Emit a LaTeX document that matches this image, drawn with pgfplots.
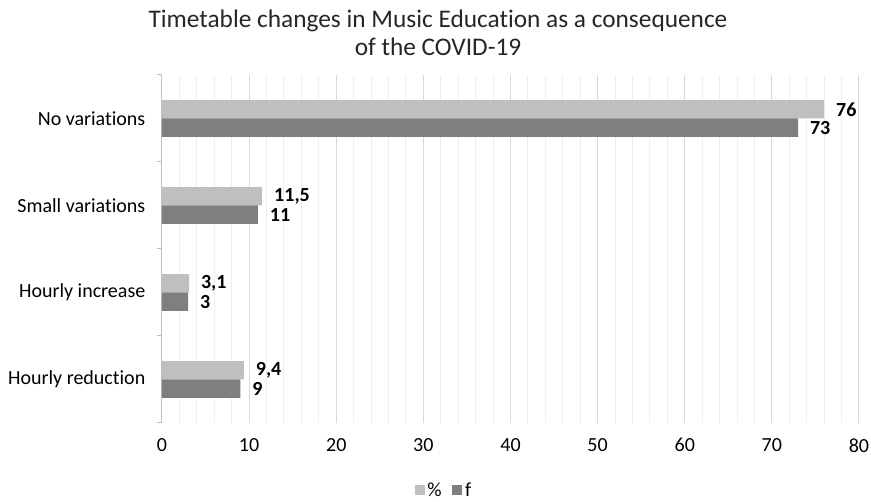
\documentclass[border=0pt]{standalone}
\usepackage{fontspec}
\setmainfont{Carlito}[Ligatures=NoCommon]
\usepackage{pgfplots}
\pgfplotsset{compat=1.18}
\definecolor{lightbar}{HTML}{BFBFBF}
\definecolor{darkbar}{HTML}{7F7F7F}
\definecolor{majgrid}{HTML}{D9D9D9}
\definecolor{mingrid}{HTML}{EEEEEE}
\definecolor{axisgray}{HTML}{BFBFBF}
\begin{document}
\begin{tikzpicture}[x=1pt,y=1pt]
\useasboundingbox (0,0) rectangle (653.25,376.5);
\node[font=\fontsize{19}{21}\selectfont, text=black!85] at (328.5,360.5) {Timetable changes in Music Education as a consequence};
\node[font=\fontsize{19}{21}\selectfont, text=black!85] at (328.5,341.5) {of the COVID-19};
\begin{axis}[
  at={(121.5pt,59.25pt)}, anchor=south west,
  scale only axis, width=522.75pt, height=261pt,
  xmin=0, xmax=80, ymin=-0.5, ymax=3.5,
  xtick={0,10,...,80}, minor x tick num=4,
  ytick={0,1,2,3},
  yticklabels={Hourly reduction, Hourly increase, Small variations, No variations},
  extra y ticks={-0.5,0.5,1.5,2.5,3.5}, extra y tick labels={},
  extra y tick style={major tick length=4pt, tick align=outside, tick style={axisgray, line width=0.75pt}},
  major tick length=0pt, minor tick length=0pt,
  xmajorgrids, xminorgrids,
  major grid style={majgrid, line width=0.75pt},
  minor grid style={mingrid, line width=0.75pt},
  axis x line*=bottom, axis y line*=left,
  x axis line style={draw=none},
  y axis line style={draw=axisgray, line width=0.75pt, -},
  tick label style={font=\fontsize{15}{17}\selectfont, text=black},
  xticklabel style={yshift=-8pt},
  yticklabel style={xshift=-9pt},
  /pgf/number format/assume math mode=true,
  /pgf/number format/use comma,
  xbar, bar width=0.21,
  nodes near coords,
  every node near coord/.append style={font=\bfseries\fontsize{15}{17}\selectfont, text=black, xshift=5.5pt},
  legend style={at={(0.405,-0.195)}, anchor=center, legend columns=2, draw=none,
    font=\fontsize{15}{17}\selectfont, /tikz/every even column/.append style={column sep=6pt}},
  legend image code/.code={\path[#1] (0pt,-3pt) rectangle (7.5pt,4.5pt);},
]
\addplot[fill=lightbar, draw=none, bar shift=0.105] coordinates {(9.4,0) (3.1,1) (11.5,2) (76,3)};
\addplot[fill=darkbar, draw=none, bar shift=-0.105] coordinates {(9,0) (3,1) (11,2) (73,3)};
\legend{\%, f}
\end{axis}
\end{tikzpicture}
\end{document}
